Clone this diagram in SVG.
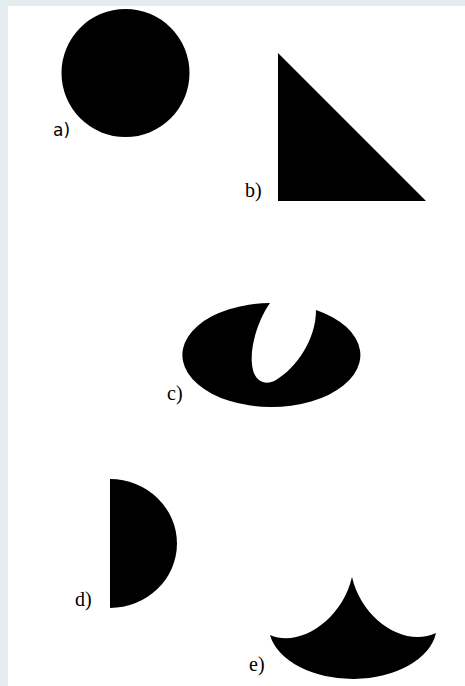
<svg xmlns="http://www.w3.org/2000/svg" width="465" height="686" viewBox="0 0 465 686">
<style>
.shape{fill:#000}
.lbl{font-family:"Liberation Serif",serif;font-size:20px;fill:#000}
.lbls{font-family:"DejaVu Sans","Liberation Sans",sans-serif;font-size:17px;fill:#000}
</style>
<rect x="0" y="0" width="465" height="686" fill="#e5ecf0"/>
<rect x="8" y="6" width="457" height="680" fill="#fff"/>
<g id="a">
<circle class="shape" cx="125.5" cy="73" r="64"/>
<text class="lbls" x="53" y="136">a)</text>
</g>
<g id="b">
<path class="shape" d="M278 53 L426 201 L278 201 Z"/>
<text class="lbl" x="245" y="197">b)</text>
</g>
<g id="c">
<path class="shape" fill-rule="evenodd" d="M316 310 A89 52 0 1 1 270 303 C258 320 248 350 253 370 C256 382 266 386 276 380 C296 368 316 340 316 310 Z"/>
<text class="lbl" x="167" y="400">c)</text>
</g>
<g id="d">
<path class="shape" d="M110 479 A67 64.5 0 0 1 110 608 Z"/>
<text class="lbl" x="75" y="606">d)</text>
</g>
<g id="e">
<path class="shape" d="M352 577 C362 620 405 648 436 633 A84 53 0 0 1 270 635 C300 648 342 620 352 577 Z"/>
<text class="lbl" x="249" y="671">e)</text>
</g>
</svg>
